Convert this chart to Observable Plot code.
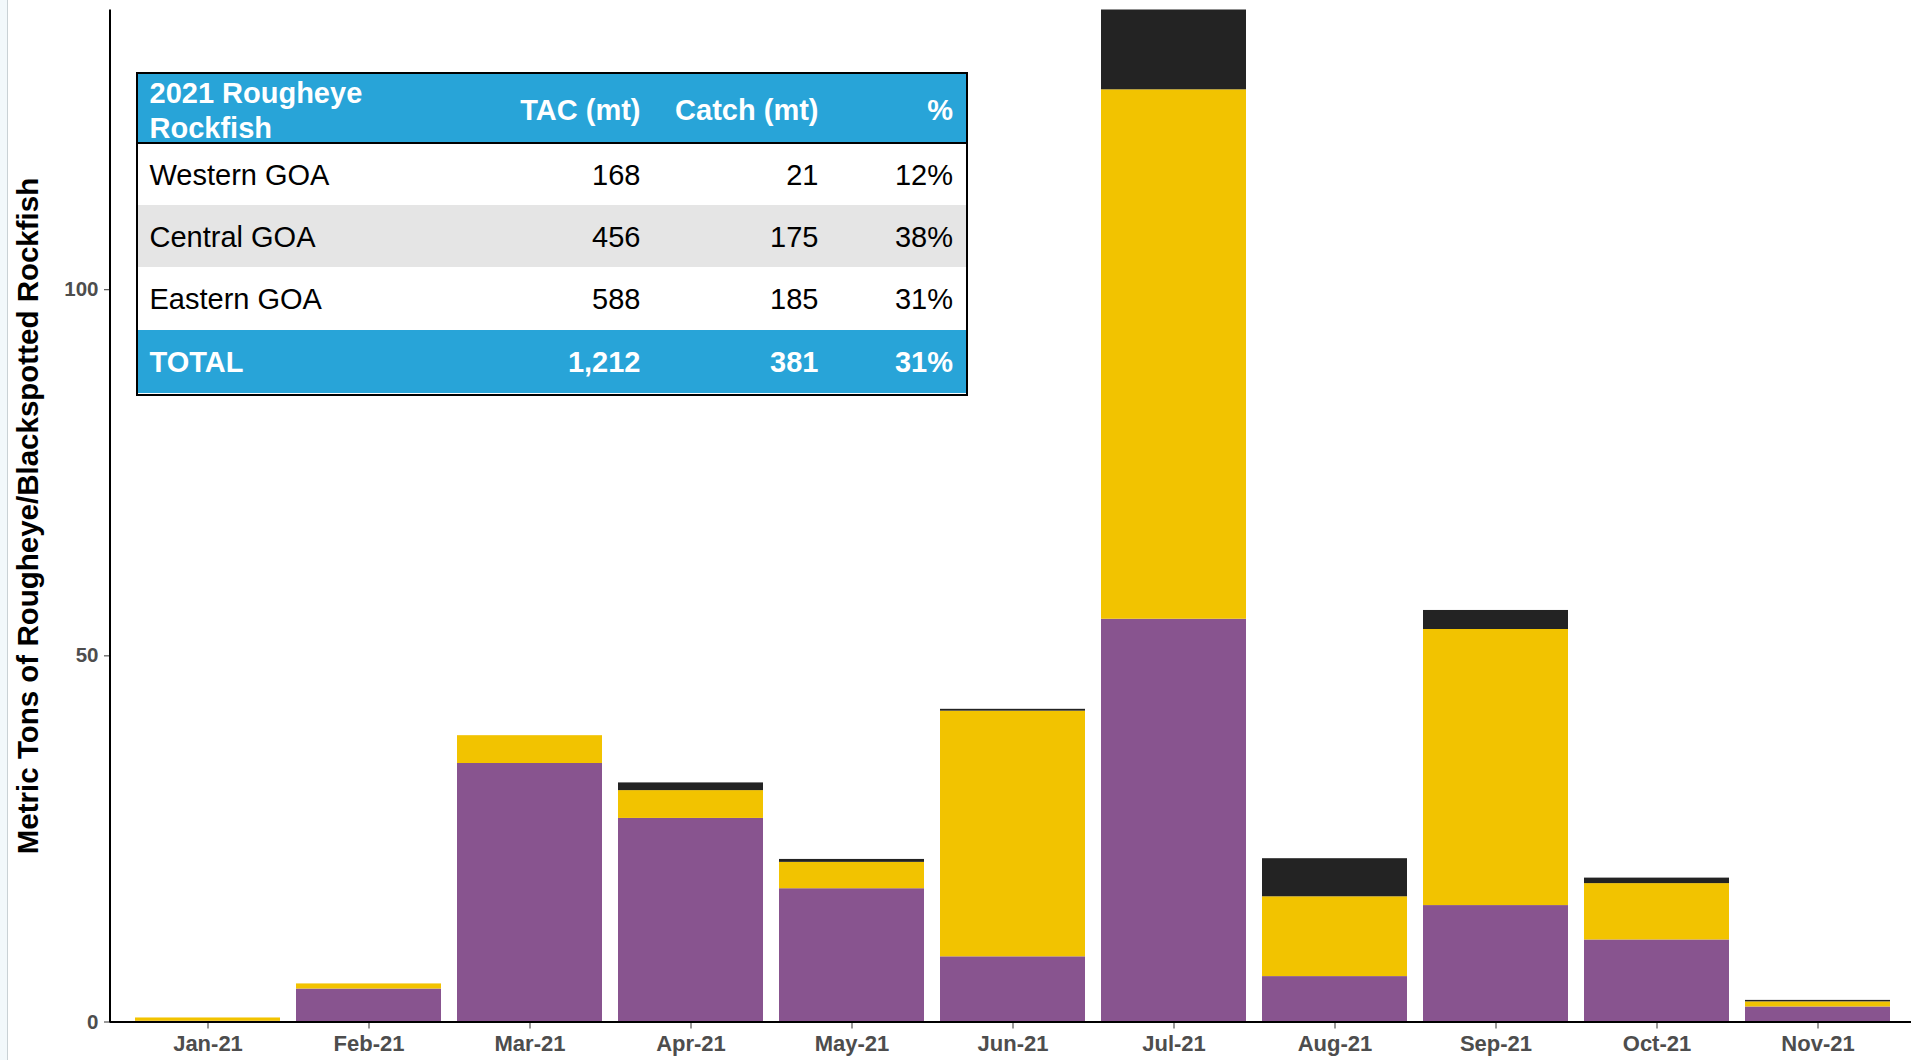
<!DOCTYPE html>
<html>
<head>
<meta charset="utf-8">
<script src="https://cdn.jsdelivr.net/npm/d3@7"></script>
<script src="https://cdn.jsdelivr.net/npm/@observablehq/plot@0.6"></script>
<style>
  html, body { margin: 0; padding: 0; background: #fff; }
  #wrap { position: relative; width: 1911px; height: 1060px; overflow: hidden; font-family: "Liberation Sans", Arial, sans-serif; }
  #edge { position: absolute; left: 0; top: 0; width: 7px; height: 1060px; background: #f2f8fb; border-right: 1px solid #c9d1d5; z-index: 2; }
  #chart svg { display: block; }
  #chart g[aria-label="x-axis tick label"] text { font-weight: bold; font-size: 22px; }
  #chart g[aria-label="y-axis tick label"] text { font-weight: bold; font-size: 20.5px; }
  #chart g[aria-label="ytitle"] text { letter-spacing: 0.6px; font-size: 29.5px; font-weight: bold; }
  #tbl { position: absolute; left: 136px; top: 72px; width: 832px; height: 323.5px; box-sizing: border-box;
         border: 2.5px solid #000; background: #fff; font-family: "Liberation Sans", Arial, sans-serif; }
  .row { display: grid; grid-template-columns: 351.5px 163px 178px 134.5px; align-items: center; }
  .row > div { padding: 0 12px; box-sizing: border-box; white-space: nowrap; }
  .row > div:first-child { padding-left: 11.5px; text-align: left; }
  .row > div:not(:first-child) { text-align: right; }
  .hdr { height: 70px; background: #28a4d8; color: #fff; font-weight: bold; font-size: 29px; border-bottom: 2.5px solid #000; box-sizing: border-box; }
  .hdr > div:first-child { white-space: normal; line-height: 35px; width: 270px; padding-top: 2px; }
  .body { font-size: 29px; color: #000; }
  .body > div, .tot > div { padding-top: 3px; }
  .tot { background: #28a4d8; color: #fff; font-weight: bold; font-size: 29px; }
</style>
</head>
<body>
<div id="wrap">
  <div id="chart"></div>
  <div id="tbl"></div>
  <div id="edge"></div>
</div>
<script>
// ---- Data ----
const months = ["Jan-21","Feb-21","Mar-21","Apr-21","May-21","Jun-21","Jul-21","Aug-21","Sep-21","Oct-21","Nov-21"];
const regions = ["Eastern GOA","Central GOA","Western GOA"];
const easternCatch = [0.1, 4.5, 35.3, 27.8, 18.2, 8.9, 55.0, 6.2, 15.9, 11.2, 2.05];
const centralCatch = [0.45, 0.7, 3.8, 3.8, 3.6, 33.55, 72.3, 10.9, 37.7, 7.7, 0.7];
const westernCatch = [0, 0, 0, 1.05, 0.4, 0.25, 10.9, 5.2, 2.6, 0.75, 0.2];
const regionColors = ["#88548f", "#f2c300", "#232323"];
const yTicks = [0, 50, 100];
const yTitle = "Metric Tons of Rougheye/Blackspotted Rockfish";

// table
const tableHeader = ["2021 Rougheye Rockfish", "TAC (mt)", "Catch (mt)", "%"];
const tableRegions = ["Western GOA", "Central GOA", "Eastern GOA"];
const tableTAC = ["168", "456", "588"];
const tableCatch = ["21", "175", "185"];
const tablePct = ["12%", "38%", "31%"];
const tableTotal = ["TOTAL", "1,212", "381", "31%"];

// ---- Build long data ----
const series = [easternCatch, centralCatch, westernCatch];
const data = months.flatMap((m, i) => regions.map((r, k) => ({month: m, region: r, tons: series[k][i]})));
const maxTotal = d3.max(months, (m, i) => d3.sum(series, s => s[i]));

function axisLineY(...args) {
  const dims = args.find(a => a && typeof a === "object" && a.marginLeft !== undefined && a.height !== undefined);
  const ns = "http://www.w3.org/2000/svg";
  const line = document.createElementNS(ns, "line");
  line.setAttribute("x1", dims.marginLeft);
  line.setAttribute("x2", dims.marginLeft);
  line.setAttribute("y1", dims.marginTop);
  line.setAttribute("y2", dims.height - dims.marginBottom + 1);
  line.setAttribute("stroke", "#000");
  line.setAttribute("stroke-width", 2);
  return line;
}

const chart = Plot.plot({
  width: 1911,
  height: 1060,
  marginLeft: 110,
  marginRight: 0,
  marginTop: 9.5,
  marginBottom: 38.5,
  style: {fontFamily: "'Liberation Sans', Arial, sans-serif", background: "transparent", overflow: "visible"},
  x: {domain: months, paddingInner: 0.1, paddingOuter: 0.1366, align: 0.547, label: null},
  y: {domain: [0, maxTotal], label: null},
  color: {domain: regions, range: regionColors},
  marks: [
    Plot.barY(data, {x: "month", y: "tons", fill: "region"}),
    Plot.axisX({tickSize: 7, tickPadding: 6, fontSize: 22, stroke: "#333", fill: "#4d4d4d", label: null}),
    Plot.axisY({ticks: yTicks, tickSize: 6, tickPadding: 6, fontSize: 20.5, stroke: "#333", fill: "#4d4d4d", label: null}),
    Plot.ruleY([0], {stroke: "#000", strokeWidth: 2}),
    axisLineY,
    Plot.text([yTitle], {text: d => d, frameAnchor: "left", dx: -82, rotate: -90, textAnchor: "middle", lineAnchor: "middle", fontSize: 29.5, fontWeight: "bold", fill: "#000", ariaLabel: "ytitle"})
  ]
});
document.getElementById("chart").appendChild(chart);

// ---- Table overlay ----
const tbl = document.getElementById("tbl");
function addRow(cells, cls, height, bg) {
  const row = document.createElement("div");
  row.className = "row " + cls;
  row.style.height = height + "px";
  if (bg) row.style.background = bg;
  cells.forEach(c => { const d = document.createElement("div"); d.textContent = c; row.appendChild(d); });
  tbl.appendChild(row);
}
addRow(tableHeader, "hdr", 70);
const rowHeights = [60.5, 62, 63];
const rowBgs = ["#ffffff", "#e5e5e5", "#ffffff"];
tableRegions.forEach((r, i) => addRow([r, tableTAC[i], tableCatch[i], tablePct[i]], "body", rowHeights[i], rowBgs[i]));
addRow(tableTotal, "tot", 63);
</script>
</body>
</html>
